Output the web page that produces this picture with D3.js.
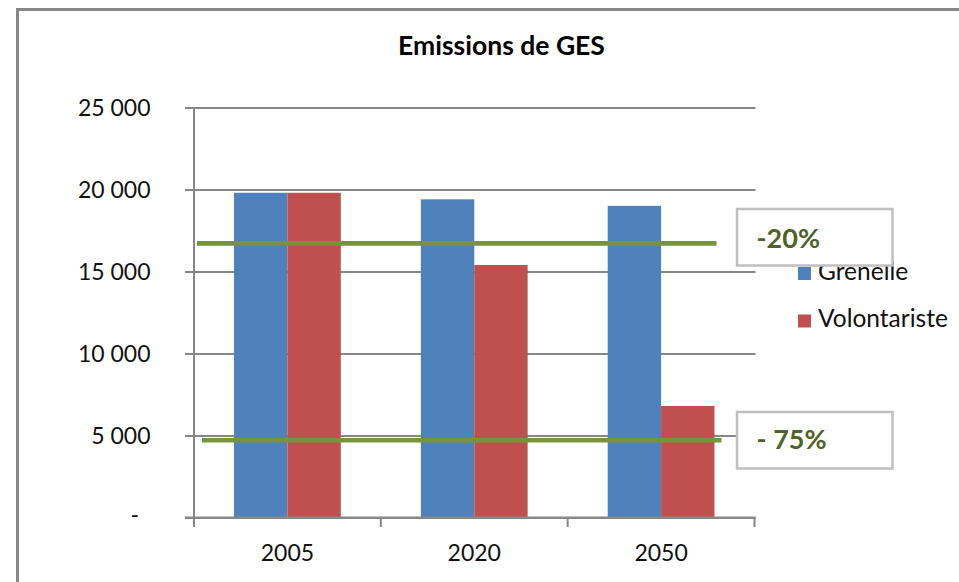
<!DOCTYPE html>
<html>
<head>
<meta charset="utf-8">
<script src="https://cdn.jsdelivr.net/npm/d3@7"></script>
<style>
  html, body { margin: 0; padding: 0; background: #fff; }
  svg { display: block; font-family: Lato, "Open Sans", sans-serif; }
</style>
</head>
<body>
<svg id="chart" width="959" height="582"></svg>
<script>
// ---- data ----
const categories = ["2005", "2020", "2050"];
const seriesNames = ["Grenelle", "Volontariste"];
const grenelle = [19800, 19400, 19000];
const volontariste = [19800, 15400, 6800];
const yTicks = [0, 5000, 10000, 15000, 20000, 25000];
const targetValues = [16720, 4710];
const targetLabels = ["-20%", "- 75%"];

const colors = { Grenelle: "#4F81BD", Volontariste: "#C0504D" };
const gridColor = "#878787";
const targetColor = "#77933C";
const targetText = "#4F6228";

const svg = d3.select("#chart");

// outer chart border (left + top visible)
svg.append("rect")
  .attr("x", 17.5).attr("y", 9.5)
  .attr("width", 1000).attr("height", 1000)
  .attr("fill", "#fff").attr("stroke", "#878787").attr("stroke-width", 3);

// title
svg.append("text")
  .attr("x", 501.5).attr("y", 55)
  .attr("text-anchor", "middle")
  .attr("font-weight", "bold")
  .attr("font-size", 26.5)
  .attr("fill", "#000")
  .text("Emissions de GES");

// scales
const plotLeft = 194, plotRight = 754.5, plotTop = 107.5, plotBottom = 517.5;
const y = d3.scaleLinear().domain([0, 25000]).range([plotBottom, plotTop]);
const x0 = d3.scaleBand().domain(categories).range([plotLeft, plotRight]).paddingInner(0).paddingOuter(0);
const x1 = d3.scaleBand().domain(seriesNames).range([0, x0.bandwidth()]).paddingInner(0).paddingOuter(0.75);

// gridlines + y axis ticks (drawn via axis generator)
const yAxis = d3.axisLeft(y).tickValues(yTicks)
  .tickSize(-(plotRight - plotLeft) - 1)
  .tickPadding(0)
  .tickFormat(d => d === 0 ? "-" : d3.format(",")(d).replace(/,/g, " "));
const gy = svg.append("g").attr("transform", `translate(${plotLeft},0)`).call(yAxis);
gy.select(".domain").remove();
gy.selectAll(".tick line")
  .attr("x1", -9)
  .attr("stroke", gridColor).attr("stroke-width", 2);
gy.selectAll(".tick text")
  .attr("x", d => d === 0 ? -55 : -43.5)
  .attr("dy", d => d === 0 ? "0.2em" : "0.36em")
  .attr("font-size", 23)
  .attr("font-family", "Lato, sans-serif")
  .attr("fill", "#111");

// vertical axis line
svg.append("line")
  .attr("x1", plotLeft).attr("x2", plotLeft)
  .attr("y1", plotTop).attr("y2", plotBottom + 9.5)
  .attr("stroke", gridColor).attr("stroke-width", 2);

// bars
const rows = categories.map((c, i) => ({ cat: c, values: [
  { key: "Grenelle", value: grenelle[i] },
  { key: "Volontariste", value: volontariste[i] }
]}));
const groups = svg.append("g").selectAll("g").data(rows).join("g")
  .attr("transform", d => `translate(${x0(d.cat)},0)`);
groups.selectAll("rect").data(d => d.values).join("rect")
  .attr("x", d => x1(d.key))
  .attr("width", x1.bandwidth())
  .attr("y", d => y(d.value))
  .attr("height", d => y(0) - y(d.value))
  .attr("fill", d => colors[d.key]);

// x axis
const xAxis = d3.axisBottom(x0).tickSize(0).tickPadding(0);
const gx = svg.append("g").attr("transform", `translate(0,${plotBottom})`).call(xAxis);
gx.select(".domain").remove();
gx.selectAll(".tick text")
  .attr("y", 43.5).attr("dy", 0)
  .attr("font-size", 23)
  .attr("font-family", "Lato, sans-serif")
  .attr("fill", "#111");
// zero line
svg.append("line")
  .attr("x1", plotLeft - 9).attr("x2", plotRight + 1)
  .attr("y1", y(0)).attr("y2", y(0))
  .attr("stroke", gridColor).attr("stroke-width", 2);
// category boundary tick marks
const boundaries = categories.map(c => x0(c)).concat([x0(categories[categories.length - 1]) + x0.bandwidth()]);
svg.append("g").selectAll("line").data(boundaries).join("line")
  .attr("x1", d => d).attr("x2", d => d)
  .attr("y1", y(0)).attr("y2", y(0) + 9.5)
  .attr("stroke", gridColor).attr("stroke-width", 2);

// legend
const legend = svg.append("g").selectAll("g").data(seriesNames).join("g")
  .attr("transform", (d, i) => `translate(798,${267 + i * 47.5})`);
legend.append("rect").attr("width", 13).attr("height", 13).attr("fill", d => colors[d]);
legend.append("text")
  .attr("x", 20).attr("y", 12.5)
  .attr("font-size", 24.5)
  .attr("fill", "#111")
  .text(d => d);

// target lines
const targets = targetValues.map((v, i) => ({ value: v, label: targetLabels[i], idx: i }));
svg.append("g").selectAll("line").data(targets).join("line")
  .attr("x1", d => plotLeft + 3 + d.idx * 5)
  .attr("x2", d => plotRight - 38 + d.idx * 5)
  .attr("y1", d => y(d.value)).attr("y2", d => y(d.value))
  .attr("stroke", targetColor).attr("stroke-width", 4.7);

// label boxes
const boxes = svg.append("g").selectAll("g").data(targets).join("g")
  .attr("transform", d => `translate(737,${d.idx === 0 ? 209 : 412})`);
boxes.append("rect")
  .attr("width", 155.5).attr("height", 56.5)
  .attr("fill", "#fff").attr("stroke", "#BFBFBF").attr("stroke-width", 2.5);
boxes.append("text")
  .attr("x", 19.5).attr("y", d => d.idx === 0 ? 38.5 : 36.5)
  .attr("font-size", 27)
  .attr("font-weight", "bold")
  .attr("fill", targetText)
  .text(d => d.label);
</script>
</body>
</html>
